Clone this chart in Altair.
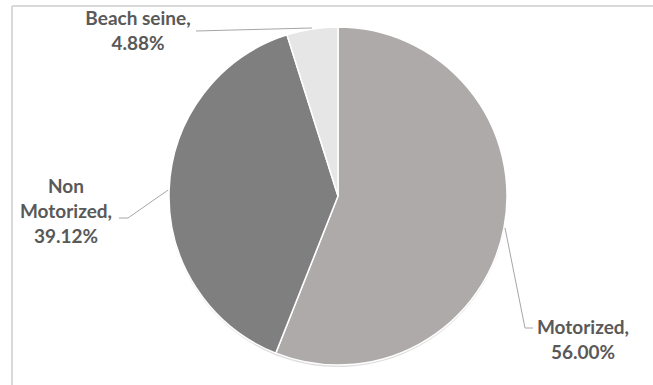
import altair as alt
import pandas as pd
import math

categories = ["Motorized", "Non Motorized", "Beach seine"]
values = [56.00, 39.12, 4.88]
colors = ["#AEAAAA", "#7F7F7F", "#E7E6E6"]
label_lines = [["Motorized,", "56.00%"], ["Non", "Motorized,", "39.12%"], ["Beach seine,", "4.88%"]]

W, H = 653, 385
CX, CY, R = 338, 196, 169

df = pd.DataFrame({"category": categories, "value": values, "idx": range(len(categories))})

# label anchor layout (text centre x, first line y) and leader elbow/end points
label_layout = {
    "Motorized": dict(x=583, y=328, pts=[(525, 328), (533, 328)]),
    "Non Motorized": dict(x=66, y=187, pts=[(128, 218), (119, 218)]),
    "Beach seine": dict(x=138, y=19, pts=[(196, 31)]),
}
LINE_H = 25

# text rows
text_rows = []
for cat, val, lines in zip(categories, values, label_lines):
    lay = label_layout[cat]
    for i, t in enumerate(lines):
        text_rows.append({"t": t, "px": lay["x"], "py": lay["y"] + i * LINE_H})
tdf = pd.DataFrame(text_rows)

# leader lines starting at the mid-angle of each slice on the arc
total = sum(values)
cum = 0
lead_rows = []
for cat, val in zip(categories, values):
    mid = (cum + val / 2) / total * 2 * math.pi
    cum += val
    sx = CX + (R + 1) * math.sin(mid)
    sy = CY - (R + 1) * math.cos(mid)
    pts = [(sx, sy)] + label_layout[cat]["pts"]
    for k, (px, py) in enumerate(pts):
        lead_rows.append({"cat": cat, "k": k, "px": px, "py": py})
ldf = pd.DataFrame(lead_rows)

color_scale = alt.Scale(domain=categories, range=colors)

shadow = alt.Chart(df).mark_arc(radius=R, color="#C8C8C8", opacity=0.6).encode(
    theta=alt.Theta("value:Q", stack=True),
    order=alt.Order("idx:Q"),
    x=alt.value(CX),
    y=alt.value(CY + 2),
)

pie = alt.Chart(df).mark_arc(radius=R, stroke="white", strokeWidth=1.5).encode(
    theta=alt.Theta("value:Q", stack=True),
    order=alt.Order("idx:Q"),
    color=alt.Color("category:N", scale=color_scale, legend=None),
    x=alt.value(CX),
    y=alt.value(CY),
)

leaders = alt.Chart(ldf).mark_line(color="#A6A6A6", strokeWidth=1).encode(
    x=alt.X("px:Q", scale=None),
    y=alt.Y("py:Q", scale=None),
    detail="cat:N",
    order="k:Q",
)

texts = alt.Chart(tdf).mark_text(
    font="Lato", fontWeight="bold", fontSize=19, color="#595959", align="center", baseline="middle"
).encode(
    x=alt.X("px:Q", scale=None),
    y=alt.Y("py:Q", scale=None),
    text="t:N",
)

frame_top = alt.Chart(df).mark_rule(color="#D9D9D9", strokeWidth=1.5).encode(
    x=alt.value(12), x2=alt.value(W), y=alt.value(6)
)
frame_left = alt.Chart(df).mark_rule(color="#D9D9D9", strokeWidth=1.5).encode(
    x=alt.value(12), y=alt.value(6), y2=alt.value(H)
)

chart = alt.layer(frame_top, frame_left, shadow, pie, leaders, texts).properties(
    width=W, height=H, padding=0, autosize=alt.AutoSizeParams(type="none"), background="white"
).configure_view(stroke=None)

chart.save("out.html", embed_options={"renderer": "svg", "actions": False})
